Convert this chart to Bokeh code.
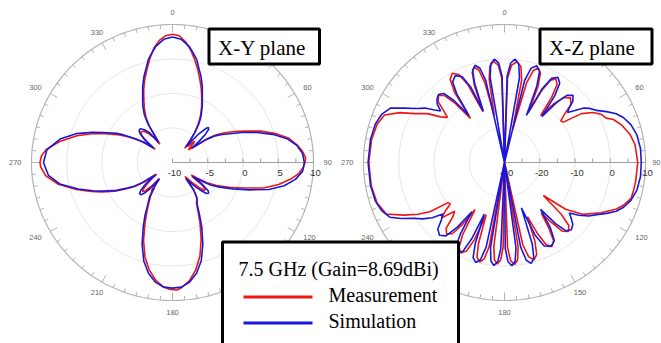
import numpy as np
from bokeh.plotting import figure
from bokeh.models import Range1d
from bokeh.embed import file_html
from bokeh.resources import INLINE
from bokeh.core.properties import value

# ---------------- data (angle in degrees, gain in dB) ----------------
xy_sim = [(0,8.2),(4,7.9),(8,7.0),(10,6.3),(13,5.3),(15,4.3),(18,3.1),(21,1.8),(24,0.4),(27,-0.7),
          (30,-1.8),(32,-2.5),(34,-3.4),(36,-4.6),(38,-5.8),(40,-7.0),(42,-4.4),(44,-3.1),(45,-2.8),
          (47,-3.0),(49,-3.9),(51,-5.2),(53,-6.6),(55,-4.4),(57,-3.0),(60,-1.9),(63,-0.8),(66,0.7),
          (70,2.7),(74,4.8),(78,6.6),(82,7.8),(86,8.5),(90,8.7),(94,8.5),(98,7.6),(102,6.2),(106,4.2),
          (110,1.6),(114,-0.6),(118,-2.4),(121,-3.6),(123,-5.0),(125,-6.5),(127,-4.6),(129,-3.5),
          (131,-3.2),(133,-3.4),(135,-4.2),(138,-5.6),(141,-7.0),(143,-5.0),(146,-3.8),(150,-3.0),
          (153,-1.6),(156,0.2),(160,2.6),(164,4.8),(168,6.4),(172,7.5),(176,8.1),(180,8.2),(184,8.1),
          (188,7.5),(192,6.4),(196,4.8),(200,2.6),(204,0.2),(207,-1.4),(210,-3.0),(213,-4.0),(216,-5.4),
          (218,-7.0),(220,-5.0),(222,-4.0),(224,-3.5),(226,-3.5),(228,-3.9),(230,-4.8),(232,-5.8),
          (234,-7.0),(236,-4.6),(238,-3.4),(240,-2.6),(243,-1.1),(247,0.6),(250,2.0),(254,3.9),(259,6.3),
          (264,7.7),(270,8.3),(276,7.9),(282,6.3),(287,4.3),(291,2.2),(294,0.7),(298,-1.0),(300,-2.0),
          (303,-3.6),(306,-5.0),(308,-6.6),(310,-4.8),(312,-3.9),(314,-3.4),(317,-3.3),(320,-3.8),
          (323,-4.6),(326,-6.5),(328,-3.5),(330,-2.0),(333,-0.7),(336,0.4),(339,1.8),(342,3.1),(345,4.3),
          (347,5.3),(350,6.3),(352,7.0),(356,7.9),(360,8.2)]

xy_meas = [(0,8.6),(3,8.4),(6,7.6),(9,6.5),(12,5.2),(15,3.9),(18,2.6),(21,1.4),(24,0.2),(27,-0.9),
           (30,-2.0),(33,-3.2),(36,-4.6),(38,-6.0),(40,-7.3),(42,-6.1),(43,-6.8),(45,-5.6),(47,-5.9),
           (49,-6.7),(51,-7.1),(53,-6.2),(55,-4.0),(57,-2.6),(60,-1.4),(63,-0.1),(66,1.2),(70,3.3),
           (74,5.2),(78,6.9),(82,7.9),(85,8.5),(88,8.9),(90,8.8),(92,8.6),(95,8.0),(98,7.0),(102,5.4),
           (106,3.4),(110,0.8),(114,-1.2),(118,-2.9),(121,-4.3),(123,-5.8),(124,-6.8),(125,-5.4),
           (126,-6.6),(128,-4.6),(130,-3.9),(132,-4.0),(134,-4.8),(136,-6.0),(139,-7.3),(141,-6.4),
           (143,-5.0),(146,-3.8),(150,-3.2),(153,-2.0),(156,-0.4),(160,1.9),(164,4.1),(168,5.9),(172,7.3),
           (176,8.2),(178,8.5),(181,8.4),(184,8.1),(188,7.2),(192,5.9),(196,4.2),(200,2.0),(204,-0.4),
           (207,-2.0),(210,-3.3),(213,-4.4),(215,-5.6),(216,-4.9),(217,-6.2),(219,-7.0),(221,-5.4),
           (223,-4.4),(225,-4.0),(227,-4.3),(229,-5.1),(231,-6.2),(233,-7.2),(235,-5.0),(237,-3.6),
           (240,-2.3),(243,-0.8),(247,0.9),(250,2.3),(254,4.2),(259,6.5),(264,8.1),(268,8.7),(270,8.8),
           (273,8.6),(276,8.0),(281,6.2),(286,4.1),(290,2.2),(294,0.3),(298,-1.5),(301,-2.8),(304,-4.2),
           (306,-5.6),(308,-6.9),(310,-5.2),(312,-4.1),(315,-3.7),(318,-3.9),(321,-4.6),(324,-5.6),
           (326,-6.8),(328,-3.9),(330,-2.5),(333,-1.2),(336,0.0),(339,1.4),(342,2.7),(345,4.0),(348,5.4),
           (351,6.8),(354,7.8),(357,8.4),(360,8.6)]

xz_sim = [(0,-30),(1.7,-5),(3.5,-1.1),(5.75,0.1),(8,-1.1),(9.8,-5),(11.5,-30),
          (13.5,-5.5),(15.4,-1.7),(18,-0.5),(20.6,-1.7),(22.5,-6),(24.5,-15),
          (26.6,-6),(28.7,-2.2),(31.5,-1.0),(34.3,-2.2),(36.4,-6),(38.5,-13),
          (40.4,-7),(42.3,-3.7),(45,-2.5),(47.5,-3.7),(49.5,-6),(51,-7),
          (53,-5),(55,-2.5),(57,-1.2),(60,0.2),(63,2.5),(66,4.7),(69,6.2),(73,7.5),(78,8.4),(84,8.8),
          (90,8.8),(96,8.8),(102,8.4),(107,7.5),(111,6.2),(114,4.7),(117,2.5),(120,0.2),(123,-1.5),
          (126,-4),(128.5,-6.5),
          (130.7,-5),(132.8,-3.6),(135.7,-2.8),(138.6,-3.6),(140.7,-7),(143,-13),
          (145.5,-7),(148,-3.3),(151.5,-2.3),(155,-3.3),(157.5,-7),(160,-16),
          (161.6,-5),(163.3,-1),(165.5,0.2),(167.7,-1),(169.4,-5),(171,-30),
          (172.5,-5),(174,-1.2),(176,0),(178,-1.2),(179.5,-5),(181,-30),
          (182.4,-5),(183.8,-1.2),(185.75,0),(187.7,-1.2),(189.1,-5),(190.5,-30),
          (192,-5),(193.6,-1),(195.75,0.1),(197.9,-1),(199.4,-5),(201,-14),
          (202.8,-6),(204.6,-1.7),(207,-0.5),(209.4,-1.7),(211.2,-6),(213,-13),
          (215.5,-7),(218,-3),(221.2,-2),(224.5,-3),(227,-5.5),(229.5,-7),
          (232,-4),(235,-1.5),(238,0.5),(241,3.5),(244,6.2),(248,7.5),(253,8.3),(260,8.6),(270,8.7),
          (280,8.6),(287,8.3),(292,7.5),(296,6.0),(299,2.5),(302,-0.5),(305,-2.5),(307.5,-5),(309.5,-6.5),
          (311.6,-4.5),(313.7,-3.5),(316.5,-2.8),(319.3,-3.6),(321.4,-7),(323.5,-13),
          (325.7,-6),(327.8,-2.4),(331,-1.2),(334.2,-2.4),(336.3,-6),(338,-14),
          (339.7,-5.6),(341.3,-1.8),(343.5,-0.6),(345.7,-1.8),(347.4,-5.6),(349,-30),
          (350.6,-5),(352.3,-1.1),(354.5,0.1),(356.7,-1.1),(358.4,-5),(360,-30)]

xz_meas = [(0,-30),(2,-5.6),(4,-1.8),(6.75,-0.6),(9.5,-1.8),(11.5,-5.6),(13.5,-20),
           (15.2,-6),(17,-2.2),(19.25,-1.0),(21.5,-2.2),(23.3,-6),(25,-14),
           (26.8,-6.7),(28.6,-2.9),(31,-1.7),(33.4,-2.9),(35.2,-6.7),(37,-13),
           (39.4,-8),(41.8,-4.7),(45,-3.5),(48.2,-4.7),(50.6,-8),(53,-10),
           (55,-9.6),(57,-4),(60,-1),(63,0.8),(66,1.6),(68,3.3),(72,5.0),(77,6.5),(82,7.4),(90,7.8),
           (98,7.6),(102,7.5),(106,7.4),(110,6.0),(113,4.5),(118,1.0),(124,-3.1),(128,-8),(131,-15.4),
           (133,-8),(135,-4.2),(137.75,-3),(140.5,-4.2),(142.5,-8),(144.5,-12),
           (146.5,-7.2),(148.4,-3.4),(151,-2.2),(153.6,-3.4),(155.5,-7.2),(157.5,-13),
           (159.3,-5.6),(161.1,-1.8),(163.5,-0.6),(165.9,-1.8),(167.7,-5.6),(169.5,-30),
           (171,-5.3),(172.5,-1.5),(174.5,-0.3),(176.5,-1.5),(178,-5.3),(179.5,-30),
           (180.9,-5.5),(182.2,-1.7),(184,-0.5),(185.8,-1.7),(187.1,-5.5),(188.5,-30),
           (190.1,-5.3),(191.6,-1.5),(193.75,-0.3),(195.9,-1.5),(197.4,-5.3),(199,-14),
           (200.9,-6),(202.8,-2.2),(205.25,-1),(207.7,-2.2),(209.6,-6),(211.5,-14),
           (213.5,-8.5),(215.6,-4.7),(218.25,-3.5),(220.9,-4.7),(223,-8.5),(225,-10),
           (228,-6),(230,-8),(232,-10.5),(234,-10.2),(236,-4.5),(238.6,-1.2),(242,2.5),(246,6.7),(252,8),
           (260,8.4),(270,8.5),(280,8.3),(287,7.8),(292,6.7),(296,3),(299,-0.8),(303,-4),(306,-7.5),
           (309,-9.2),
           (311.1,-7),(313.2,-4.2),(316,-3),(318.8,-4.2),(320.9,-8),(323,-14),
           (325.2,-5.2),(327.4,-1.4),(330.25,-0.2),(333.1,-1.4),(335.3,-5.2),(337.5,-14),
           (339.1,-6.1),(340.7,-2.3),(342.75,-1.1),(344.8,-2.3),(346.4,-6.1),(348,-16),
           (349.8,-5.5),(351.6,-1.7),(354,-0.5),(356.4,-1.7),(358.2,-5.5),(360,-30)]

angle_labels = ["0", "30", "60", "90", "120", "150", "180", "210", "240", "270", "300", "330"]
xy_rtick_labels = ["-10", "-5", "0", "5", "10"]
xz_rtick_labels = ["-30", "-20", "-10", "0", "10"]
xy_range = (-10, 10)
xz_range = (-30, 10)
panel_titles = ["X-Y plane", "X-Z plane"]
legend_title = "7.5 GHz (Gain=8.69dBi)"
series_names = ["Measurement", "Simulation"]
series_colors = ["#ee1515", "#1818dd"]

# ---------------- layout (reference pixel space) ----------------
W, H = 661, 343
p = figure(width=W, height=H, x_range=Range1d(0, W), y_range=Range1d(H, 0),
           output_backend="svg", toolbar_location=None, min_border=0)
p.xaxis.visible = False
p.yaxis.visible = False
p.grid.visible = False
p.outline_line_color = None
p.background_fill_color = "white"

RX, RY = 141, 138
SANS = value("Liberation Sans")
SERIF = value("Liberation Serif")


def polar_xy(cx, cy, ang, db, rng):
    a = np.radians(np.asarray(ang, dtype=float))
    d = np.clip(np.asarray(db, dtype=float), rng[0], rng[1] + 5)
    r = (d - rng[0]) / (rng[1] - rng[0])
    return cx + r * RX * np.sin(a), cy - r * RY * np.cos(a)


def draw_frame(cx, cy, rlabels, right_limit=None):
    t = np.linspace(0, 2 * np.pi, 361)
    for k in (1, 2, 3):
        f = k / 4
        p.line(cx + f * RX * np.sin(t), cy - f * RY * np.cos(t), line_color="#e4e4e4", line_width=1)
    p.line(cx + RX * np.sin(t), cy - RY * np.cos(t), line_color="#b4b4b4", line_width=1.2)
    deg = np.arange(0, 360, 5)
    ln = np.where(deg % 30 == 0, 8, 4)
    a = np.radians(deg)
    p.segment(cx + RX * np.sin(a), cy - RY * np.cos(a),
              cx + (RX - ln) * np.sin(a), cy - (RY - ln) * np.cos(a),
              line_color="#b4b4b4", line_width=1)
    lab_deg = np.arange(0, 360, 30)
    la = np.radians(lab_deg)
    lxs = cx + 151 * np.sin(la)
    aligns = ["center" if d in (0, 30, 150, 180, 210, 330) else ("left" if d < 180 else "right") for d in lab_deg]
    if right_limit is not None:
        i90 = 3
        lxs[i90] = right_limit
        aligns[i90] = "right"
    p.text(lxs, cy - 150 * np.cos(la), text=angle_labels, text_align=aligns,
           text_baseline="middle", text_font=SANS, text_font_size="7.5px", text_color="#666666")
    p.segment([cx], [cy], [cx + RX], [cy], line_color="#a0a0a0", line_width=1)
    tx = cx + np.arange(0, 9) * RX / 8
    p.segment(tx, cy, tx, cy - 4, line_color="#a0a0a0", line_width=1)
    lx = cx + np.arange(0, 5) * RX / 4 + 2
    p.text(lx, cy + 10, text=rlabels, text_align="center", text_baseline="middle",
           text_font=SANS, text_font_size="9.5px", text_color="#333333")


cxl, cyl = 172, 162
cxr, cyr = 504, 162
draw_frame(cxl, cyl, xy_rtick_labels)
draw_frame(cxr, cyr, xz_rtick_labels, right_limit=660)

for data, col in ((xy_meas, series_colors[0]), (xy_sim, series_colors[1])):
    a, d = zip(*data)
    x, y = polar_xy(cxl, cyl, a, d, xy_range)
    p.line(x, y, line_color=col, line_width=1.6)

for data, col in ((xz_meas, series_colors[0]), (xz_sim, series_colors[1])):
    a, d = zip(*data)
    x, y = polar_xy(cxr, cyr, a, d, xz_range)
    p.line(x, y, line_color=col, line_width=1.6)

for (l, r, t, b), txt in (((208.5, 319, 28.5, 63.5), panel_titles[0]), ((539.5, 651.5, 28.5, 63.5), panel_titles[1])):
    p.quad(left=l, right=r, top=t, bottom=b, fill_color="white", line_color="black", line_width=3)
    p.text([l + 9], [(t + b) / 2 + 1], text=[txt], text_align="left", text_baseline="middle",
           text_font=SERIF, text_font_size="21px", text_color="black")

p.quad(left=222, right=458, top=241.5, bottom=350, fill_color="white", line_color="black", line_width=3)
p.text([238], [268], text=[legend_title], text_align="left", text_baseline="middle",
       text_font=SERIF, text_font_size="20px", text_color="black")
for i, (nm, col) in enumerate(zip(series_names, series_colors)):
    yy = 296.5 + i * 26
    p.segment([243], [yy], [312], [yy], line_color=col, line_width=3)
    p.text([328], [yy - 2.5], text=[nm], text_align="left", text_baseline="middle",
           text_font=SERIF, text_font_size="20px", text_color="black")

open("out.html", "w").write(file_html(p, INLINE))
